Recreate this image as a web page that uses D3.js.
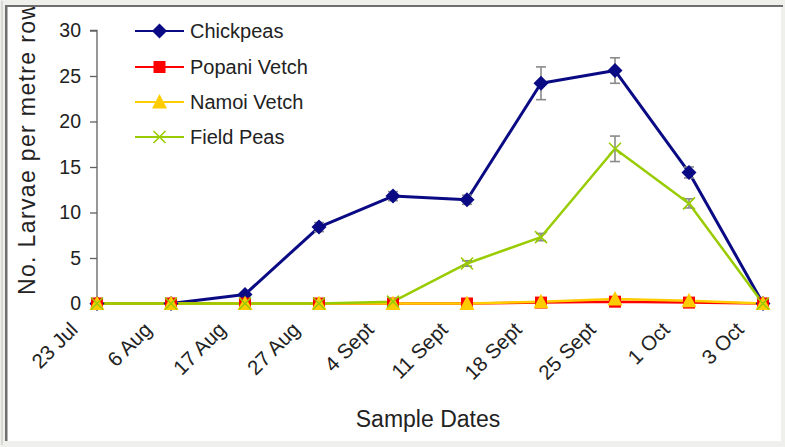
<!DOCTYPE html>
<html><head><meta charset="utf-8">
<script src="https://cdn.jsdelivr.net/npm/d3@7"></script>
<style>html,body{margin:0;padding:0;background:#efefeb;}svg{display:block;font-family:"Liberation Sans",Arial,sans-serif;}</style>
</head><body>
<svg id="chart" width="785" height="447"></svg>
<script>
const categories = ["23 Jul","6 Aug","17 Aug","27 Aug","4 Sept","11 Sept","18 Sept","25 Sept","1 Oct","3 Oct"];
const chickpeas   = [0, 0, 1.0, 8.4, 11.8, 11.4, 24.2, 25.6, 14.4, 0];
const chickpeasErr= [0, 0, 0.2, 0.5, 0.5, 0.5, 1.8, 1.4, 0.6, 0];
const popani      = [0, 0, 0, 0, 0, 0, 0.1, 0.2, 0.1, 0];
const namoi       = [0, 0, 0, 0, 0, 0, 0.2, 0.5, 0.3, 0];
const fieldPeas   = [0, 0, 0, 0, 0.2, 4.4, 7.3, 17.0, 11.0, 0];
const fieldPeasErr= [0, 0, 0, 0, 0, 0.3, 0.4, 1.4, 0.5, 0];
const yTicks = [0,5,10,15,20,25,30];

const series = [
  {name:"Chickpeas", values:chickpeas, err:chickpeasErr, color:"#0a0a84", symbol:"diamond", lw:3},
  {name:"Popani Vetch", values:popani, err:null, color:"#ff0000", symbol:"square", lw:2.5},
  {name:"Namoi Vetch", values:namoi, err:null, color:"#ffcc00", symbol:"triangle", lw:2.5},
  {name:"Field Peas", values:fieldPeas, err:fieldPeasErr, color:"#99cc00", symbol:"cross", lw:2.5}
];

const svg = d3.select("#chart");
// frame
svg.append("rect").attr("x",0).attr("y",0).attr("width",785).attr("height",447).attr("fill","#efefeb");
svg.append("rect").attr("x",1).attr("y",1).attr("width",2).attr("height",444).attr("fill","#d8d8d4");
svg.append("rect").attr("x",5).attr("y",5).attr("width",776).attr("height",436).attr("fill","#ffffff");
svg.append("rect").attr("x",5).attr("y",5).attr("width",2.5).attr("height",436).attr("fill","#6f6f6f");
svg.append("rect").attr("x",5).attr("y",5).attr("width",778).attr("height",2).attr("fill","#6f6f6f");

svg.append("clipPath").attr("id","inner").append("rect").attr("x",8).attr("y",7).attr("width",773).attr("height",434);
const g = svg.append("g").attr("clip-path","url(#inner)");

const x = d3.scalePoint().domain(categories).range([97, 763]);
const y = d3.scaleLinear().domain([0,30]).range([303.5, 30.5]);

// y axis
const yAxis = d3.axisLeft(y).tickValues(yTicks).tickSize(7).tickPadding(9);
const ya = g.append("g").attr("transform","translate(97,0)").call(yAxis);
ya.selectAll("path,line").attr("stroke","#606060").attr("stroke-width",1.3);
ya.select(".domain").attr("d","M-7,"+y(30)+"H0V"+y(0));
ya.selectAll("text").attr("font-size","19.5px").attr("fill","#222").attr("font-family","Liberation Sans, Arial, sans-serif");

// x axis labels
g.append("g").selectAll("text").data(categories).join("text")
  .attr("transform", d => `translate(${x(d)-18},${331}) rotate(-45)`)
  .attr("text-anchor","end")
  .attr("font-size","20.5px").attr("fill","#222")
  .text(d => d);

// titles
g.append("text").attr("x",428).attr("y",427).attr("text-anchor","middle")
  .attr("font-size","23px").attr("fill","#222").text("Sample Dates");
g.append("text").attr("transform","translate(35,295) rotate(-90)")
  .attr("text-anchor","start").attr("font-size","23px").attr("fill","#222")
  .attr("textLength",292).attr("lengthAdjust","spacing")
  .text("No. Larvae per metre row");

// lines
const line = d3.line().x((d,i)=>x(categories[i])).y(d=>y(d));
series.forEach(s=>{
  g.append("path").datum(s.values).attr("d",line).attr("fill","none")
   .attr("stroke",s.color).attr("stroke-width",s.lw).attr("stroke-linejoin","round");
});

// error bars
series.filter(s=>s.err).forEach(s=>{
  s.values.forEach((v,i)=>{
    const e = s.err[i]; if(!e) return;
    const cx = x(categories[i]);
    const eg = g.append("g").attr("stroke","#8a8a8a").attr("stroke-width",1.6);
    eg.append("line").attr("x1",cx).attr("x2",cx).attr("y1",y(v+e)).attr("y2",y(v-e));
    eg.append("line").attr("x1",cx-5).attr("x2",cx+5).attr("y1",y(v+e)).attr("y2",y(v+e));
    eg.append("line").attr("x1",cx-5).attr("x2",cx+5).attr("y1",y(v-e)).attr("y2",y(v-e));
  });
});

function drawMarker(sel, s, cx, cy){
  if(s.symbol==="diamond"){
    sel.append("path").attr("d",`M${cx},${cy-7.5}L${cx+7.5},${cy}L${cx},${cy+7.5}L${cx-7.5},${cy}Z`).attr("fill",s.color);
  } else if(s.symbol==="square"){
    sel.append("rect").attr("x",cx-6).attr("y",cy-6).attr("width",12).attr("height",12).attr("fill",s.color);
  } else if(s.symbol==="triangle"){
    sel.append("path").attr("d",`M${cx},${cy-8}L${cx+7.5},${cy+6.5}L${cx-7.5},${cy+6.5}Z`).attr("fill",s.color);
  } else {
    sel.append("path").attr("d",`M${cx-6},${cy-6}L${cx+6},${cy+6}M${cx+6},${cy-6}L${cx-6},${cy+6}`)
      .attr("stroke",s.color).attr("stroke-width",1.6).attr("fill","none");
  }
}
series.forEach(s=>{
  const mg = g.append("g");
  s.values.forEach((v,i)=>drawMarker(mg, s, x(categories[i]), y(v)));
});

// legend
const legY = [31, 67, 102, 137];
series.forEach((s,i)=>{
  const lg = g.append("g");
  lg.append("line").attr("x1",135).attr("x2",184).attr("y1",legY[i]).attr("y2",legY[i])
    .attr("stroke",s.color).attr("stroke-width",2);
  drawMarker(lg, s, 159.5, legY[i]);
  lg.append("text").attr("x",190).attr("y",legY[i]+7).attr("font-size","20px").attr("fill","#222").text(s.name);
});
</script>
</body></html>
